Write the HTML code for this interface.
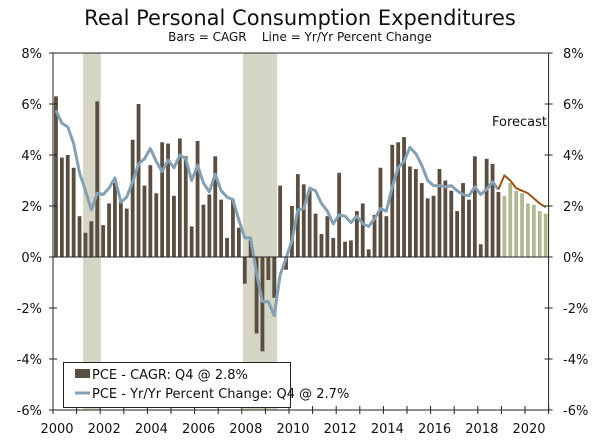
<!DOCTYPE html>
<html><head><meta charset="utf-8"><style>
body{margin:0;background:#fff;}
svg text{font-family:"DejaVu Sans","Liberation Sans",sans-serif;}
</style></head><body>
<svg id="chart" width="600" height="441" xmlns="http://www.w3.org/2000/svg">
<text x="300" y="25" text-anchor="middle" font-size="21" fill="#111">Real Personal Consumption Expenditures</text>
<text x="300" y="41" text-anchor="middle" font-size="12" fill="#111">Bars = CAGR &#160;&#160;&#160;Line = Yr/Yr Percent Change</text>
<g id="bands"></g><g id="bars"></g><g id="lines"></g><g id="axes"></g>
<text x="547" y="126" text-anchor="end" font-size="13" fill="#111">Forecast</text>
<g>
<rect x="63.5" y="362.5" width="227" height="45" fill="#fff" stroke="#222"/>
<rect x="75" y="369" width="15" height="9" fill="#5a4d42"/>
<text x="92" y="379" font-size="13" fill="#111">PCE - CAGR: Q4 @ 2.8%</text>
<line x1="75" y1="393" x2="90" y2="393" stroke="#86a0b3" stroke-width="3"/>
<text x="92" y="398" font-size="13" fill="#111">PCE - Yr/Yr Percent Change: Q4 @ 2.7%</text>
</g>
</svg>
<script>
const cagr=[6.3,3.9,4.0,3.5, 1.6,0.95,1.4,6.1, 1.25,2.1,2.9,2.15, 1.9,4.6,6.0,2.8, 3.6,2.5,4.5,4.45, 2.4,4.65,3.95,1.2, 4.55,2.05,2.45,3.95, 2.25,0.75,2.25,1.15, -1.05,0.65,-3.0,-3.7, -0.9,-1.6,2.8,-0.5, 2.0,3.25,2.85,2.6, 1.7,0.9,1.6,0.75, 3.3,0.6,0.65,1.8, 2.1,0.3,1.65,3.5, 1.6,4.4,4.5,4.7, 3.55,3.45,2.9,2.3, 2.4,3.45,3.0,2.6, 1.8,2.9,2.25,3.95, 0.5,3.85,3.65,2.55];
const cagrForecast=[2.4,2.9,2.6,2.5,2.1,2.05,1.8,1.7];
const yoy=[5.75,5.25,5.1,4.45, 3.3,2.6,1.85,2.5, 2.45,2.7,3.1,2.15, 2.35,2.95,3.65,3.85, 4.25,3.75,3.35,3.8, 3.5,4.0,3.85,3.0, 3.6,2.9,2.55,3.25, 2.6,2.35,2.25,1.45, 0.75,0.75,-0.65,-1.75, -1.75,-2.3,-0.7,-0.05, 0.65,1.85,1.9,2.7, 2.6,2.1,1.8,1.3, 1.65,1.6,1.35,1.6, 1.3,1.2,1.5,1.9, 1.8,2.75,3.5,3.75, 4.3,4.05,3.6,3.0, 2.8,2.8,2.75,2.8, 2.6,2.45,2.4,2.75, 2.45,2.65,2.95,2.65];
const yoyForecast=[3.2,3.0,2.7,2.6,2.5,2.3,2.1,1.95];
const recessions=[[5.1,8.1],[32.2,38.0]];
const yTicks=[8,6,4,2,0,-2,-4,-6];
const xYears=[2000,2002,2004,2006,2008,2010,2012,2014,2016,2018,2020];
const NS="http://www.w3.org/2000/svg";
const X0=53,Q=5.9,NQ=84;
function xq(i){return X0+Q*(i+0.5);}
function xb(i){return X0+Q*i;}
function y(v){return 257-25.5*v;}
function mk(tag,attrs,parent){const e=document.createElementNS(NS,tag);for(const k in attrs)e.setAttribute(k,attrs[k]);document.getElementById(parent).appendChild(e);return e;}
recessions.forEach(r=>{const e=mk('rect',{x:xb(r[0]),y:y(8),width:(r[1]-r[0])*Q,height:y(-6)-y(8),fill:'#d6d6c6'},'bands');

});
function bar(v,i,col){const e=mk('rect',{x:xq(i)-1.9,y:Math.min(y(v),y(0)),width:3.8,height:Math.abs(y(v)-y(0)),fill:col},'bars');return e;}
cagr.forEach((v,i)=>{const e=bar(v,i,'#5a4d42');

});
cagrForecast.forEach((v,i)=>{const e=bar(v,i+cagr.length,'#b2b894');

});
let p=yoy.map((v,i)=>xq(i)+','+y(v)).join(' ');
let l1=mk('polyline',{points:p,fill:'none',stroke:'#86a0b3','stroke-width':3,'stroke-linejoin':'round'},'lines');


let last=yoy.length-1;
let p2=[xq(last)+','+y(yoy[last])].concat(yoyForecast.map((v,i)=>xq(i+yoy.length)+','+y(v))).join(' ');
let l2=mk('polyline',{points:p2,fill:'none',stroke:'#9a5515','stroke-width':2,'stroke-linejoin':'round'},'lines');


const XR=X0+Q*NQ;
mk('line',{x1:X0,y1:y(8),x2:XR,y2:y(8),stroke:'#222'},'axes');
mk('line',{x1:X0,y1:y(8),x2:X0,y2:y(-6),stroke:'#222'},'axes');
mk('line',{x1:XR,y1:y(8),x2:XR,y2:y(-6),stroke:'#222'},'axes');
mk('line',{x1:X0,y1:y(-6),x2:XR,y2:y(-6),stroke:'#222'},'axes');
mk('line',{x1:X0,y1:y(0),x2:XR,y2:y(0),stroke:'#222'},'axes');
yTicks.forEach(t=>{mk('line',{x1:X0-4,y1:y(t),x2:X0+4,y2:y(t),stroke:'#222'},'axes');
mk('line',{x1:XR-4,y1:y(t),x2:XR+4,y2:y(t),stroke:'#222'},'axes');
let a=mk('text',{x:42,y:y(t)+5,'text-anchor':'end','font-size':13,fill:'#111'},'axes');a.textContent=t+'%';


let b=mk('text',{x:563,y:y(t)+5,'text-anchor':'start','font-size':13,fill:'#111'},'axes');b.textContent=t+'%';

});
for(let k=0;k<=21;k++){mk('line',{x1:X0+4*Q*k,y1:y(-6)-4,x2:X0+4*Q*k,y2:y(-6)+4,stroke:'#222'},'axes');}
xYears.forEach(yr=>{let t=mk('text',{x:X0+4*Q*(yr-2000)+4,y:433,'text-anchor':'middle','font-size':13,fill:'#111'},'axes');t.textContent=yr;

});
</script>
</body></html>
